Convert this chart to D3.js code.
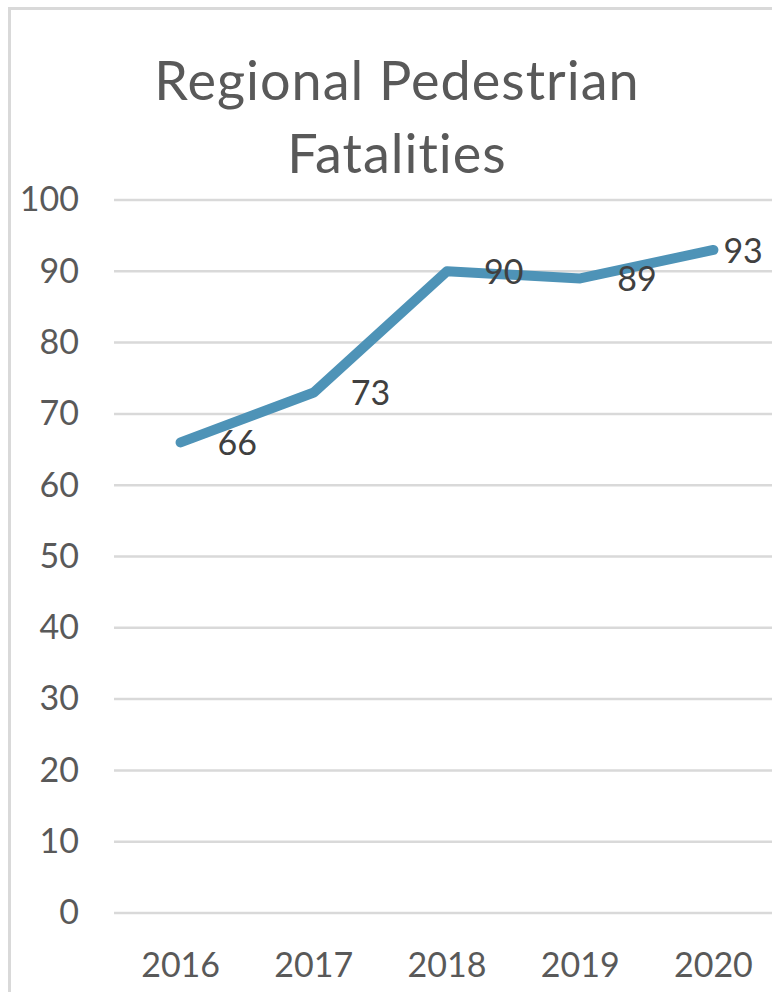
<!DOCTYPE html>
<html lang="en">
<head>
  <meta charset="UTF-8">
  <title>Regional Pedestrian Fatalities</title>
  <script src="https://d3js.org/d3.v7.min.js"></script>
  <style>
    body { margin: 0; background: #fff; }
    text { font-family: Lato, "Noto Sans", sans-serif; fill: #595959; font-variant-ligatures: none; }
  </style>
</head>
<body>
<script>
  // dados
  const years = ["2016", "2017", "2018", "2019", "2020"];
  const fatalities = [66, 73, 90, 89, 93];
  const yTicks = [0, 10, 20, 30, 40, 50, 60, 70, 80, 90, 100];
  const titleLines = ["Regional Pedestrian", "Fatalities"];

  const width = 772;
  const height = 992;

  const svg = d3.select("body")
    .append("svg")
    .attr("width", width)
    .attr("height", height);

  // moldura do gráfico (cortada à direita e embaixo)
  svg.append("rect")
    .attr("x", 9.5)
    .attr("y", 8.5)
    .attr("width", 800)
    .attr("height", 1000)
    .style("fill", "#fff")
    .style("stroke", "#d9d9d9")
    .style("stroke-width", 3);

  // título
  svg.append("g").selectAll("text")
    .data(titleLines)
    .enter()
    .append("text")
    .attr("x", 397)
    .attr("y", (d, i) => 100 + i * 73)
    .style("text-anchor", "middle")
    .style("font-size", "54px")
    .style("letter-spacing", "1px")
    .text(d => d);

  // escalas
  const xScale = d3.scaleBand()
    .domain(years)
    .range([114, 780]);

  const yScale = d3.scaleLinear()
    .domain([0, 100])
    .range([913, 200]);

  const cx = d => xScale(d) + xScale.bandwidth() / 2;

  // grade horizontal
  svg.append("g")
    .selectAll("line")
    .data(yTicks)
    .enter()
    .append("line")
    .attr("x1", 114)
    .attr("x2", 780)
    .attr("y1", d => yScale(d))
    .attr("y2", d => yScale(d))
    .style("stroke", "#d9d9d9")
    .style("stroke-width", 2.5);

  // eixo Y
  const yAxis = svg.append("g")
    .attr("transform", "translate(79,0)")
    .call(d3.axisLeft(yScale).tickValues(yTicks).tickSize(0).tickPadding(0));
  yAxis.select(".domain").remove();
  yAxis.selectAll("text")
    .style("font-size", "34px")
    .style("font-family", "Lato, 'Noto Sans', sans-serif")
    .style("fill", "#595959");

  // eixo X
  const xAxis = svg.append("g")
    .attr("transform", "translate(0,953)")
    .call(d3.axisBottom(xScale).tickSize(0).tickPadding(0));
  xAxis.select(".domain").remove();
  xAxis.selectAll("text")
    .style("font-size", "34px")
    .style("font-family", "Lato, 'Noto Sans', sans-serif")
    .style("fill", "#595959");

  // linha
  const data = years.map((y, i) => ({ year: y, value: fatalities[i] }));

  svg.append("path")
    .datum(data)
    .attr("d", d3.line().x(d => cx(d.year)).y(d => yScale(d.value)))
    .style("fill", "none")
    .style("stroke", "#4e93b7")
    .style("stroke-width", 10)
    .style("stroke-linecap", "round")
    .style("stroke-linejoin", "round");

  // rótulos de dados
  svg.append("g").selectAll("text")
    .data(data)
    .enter()
    .append("text")
    .attr("x", (d, i) => i === data.length - 1 ? cx(d.year) + 10 : cx(d.year) + 37)
    .attr("y", d => yScale(d.value) + 1)
    .attr("dy", "0.35em")
    .style("font-size", "34px")
    .style("fill", "#404040")
    .text(d => d.value);
</script>
</body>
</html>
